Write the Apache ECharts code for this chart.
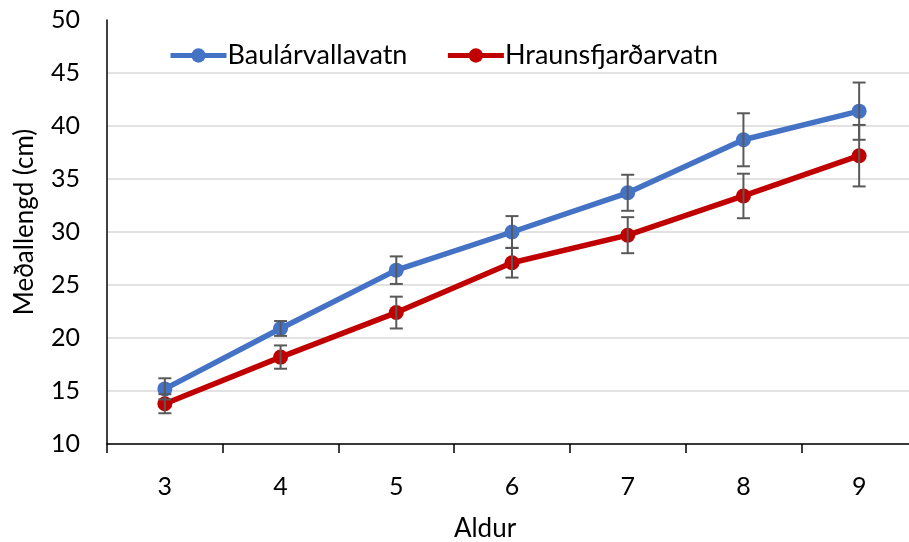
<!DOCTYPE html>
<html>
<head>
<meta charset="utf-8">
<script src="https://cdn.jsdelivr.net/npm/echarts@6/dist/echarts.min.js"></script>
<style>
html,body{margin:0;padding:0;background:#fff;}
#chart{width:909px;height:542px;}
</style>
</head>
<body>
<div id="chart"></div>
<script>
const categories = ['3', '4', '5', '6', '7', '8', '9'];
const seriesNames = ['Baulárvallavatn', 'Hraunsfjarðarvatn'];
const bauValues = [15.2, 20.9, 26.4, 30.0, 33.7, 38.7, 41.4];
const bauErrors = [1.0, 0.7, 1.3, 1.5, 1.7, 2.5, 2.7];
const hraValues = [13.8, 18.2, 22.4, 27.1, 29.7, 33.4, 37.2];
const hraErrors = [0.9, 1.1, 1.5, 1.4, 1.7, 2.1, 2.9];
const yTicks = { min: 10, max: 50, interval: 5 };
const xTitle = 'Aldur';
const yTitle = 'Meðallengd (cm)';

const FONT = 'Lato';
const colors = ['#4472C4', '#C00000'];

function errData(vals, errs) {
  return vals.map((v, i) => [i, v - errs[i], v + errs[i]]);
}

function renderErr(params, api) {
  const x = api.value(0);
  const lo = api.coord([x, api.value(1)]);
  const hi = api.coord([x, api.value(2)]);
  const hw = 6.5;
  const style = { stroke: '#595959', lineWidth: 2, fill: null };
  return {
    type: 'group',
    children: [
      { type: 'line', shape: { x1: lo[0], y1: lo[1], x2: hi[0], y2: hi[1] }, style: style },
      { type: 'line', shape: { x1: lo[0] - hw, y1: lo[1], x2: lo[0] + hw, y2: lo[1] }, style: style },
      { type: 'line', shape: { x1: hi[0] - hw, y1: hi[1], x2: hi[0] + hw, y2: hi[1] }, style: style }
    ]
  };
}

const gridColors = ['#d9d9d9','#d9d9d9','#d9d9d9','#d9d9d9','#d9d9d9','#d9d9d9','#d9d9d9','#d9d9d9','rgba(0,0,0,0)'];

const chart = echarts.init(document.getElementById('chart'), null, { renderer: 'canvas' });
chart.setOption({
  animation: false,
  backgroundColor: '#fff',
  grid: { left: 107, width: 810, top: 20, bottom: 98, containLabel: false, outerBoundsMode: 'none' },
  legend: {
    left: 163, top: 37,
    itemWidth: 56, itemHeight: 18, itemGap: 38,
    lineStyle: { width: 5 },
    textStyle: { fontFamily: FONT, fontSize: 27, color: '#000', padding: [0, 0, 0, -4] },
    data: seriesNames
  },
  xAxis: {
    type: 'category',
    data: categories,
    boundaryGap: true,
    axisLine: { lineStyle: { color: '#000', width: 1.5 } },
    axisTick: { show: true, length: 9, lineStyle: { color: '#000', width: 1.5 } },
    axisLabel: { fontFamily: FONT, fontSize: 25, color: '#000', margin: 30 },
    splitLine: { show: false }
  },
  yAxis: {
    type: 'value',
    min: yTicks.min, max: yTicks.max, interval: yTicks.interval,
    axisLine: { show: true, lineStyle: { color: '#000', width: 1.5 } },
    axisTick: { show: false },
    axisLabel: { fontFamily: FONT, fontSize: 25, color: '#000', margin: 27 },
    splitLine: { show: true, lineStyle: { color: gridColors, width: 1.5 } }
  },
  graphic: [
    {
      type: 'text', x: 25, y: 222, rotation: Math.PI / 2,
      style: { text: yTitle, fontFamily: FONT, fontSize: 26, fill: '#000', align: 'center', verticalAlign: 'middle' }
    },
    {
      type: 'text', x: 485, y: 529,
      style: { text: xTitle, fontFamily: FONT, fontSize: 26, fill: '#000', align: 'center', verticalAlign: 'middle' }
    }
  ],
  series: [
    {
      name: seriesNames[0], type: 'line', data: bauValues,
      symbol: 'circle', symbolSize: 15, z: 3,
      lineStyle: { color: colors[0], width: 5.5 },
      itemStyle: { color: colors[0] }
    },
    {
      name: seriesNames[1], type: 'line', data: hraValues,
      symbol: 'circle', symbolSize: 15, z: 3,
      lineStyle: { color: colors[1], width: 5.5 },
      itemStyle: { color: colors[1] }
    },
    {
      type: 'custom', renderItem: renderErr, data: errData(bauValues, bauErrors),
      encode: { x: 0, y: [1, 2] }, z: 5, silent: true
    },
    {
      type: 'custom', renderItem: renderErr, data: errData(hraValues, hraErrors),
      encode: { x: 0, y: [1, 2] }, z: 5, silent: true
    }
  ]
});
</script>
</body>
</html>
